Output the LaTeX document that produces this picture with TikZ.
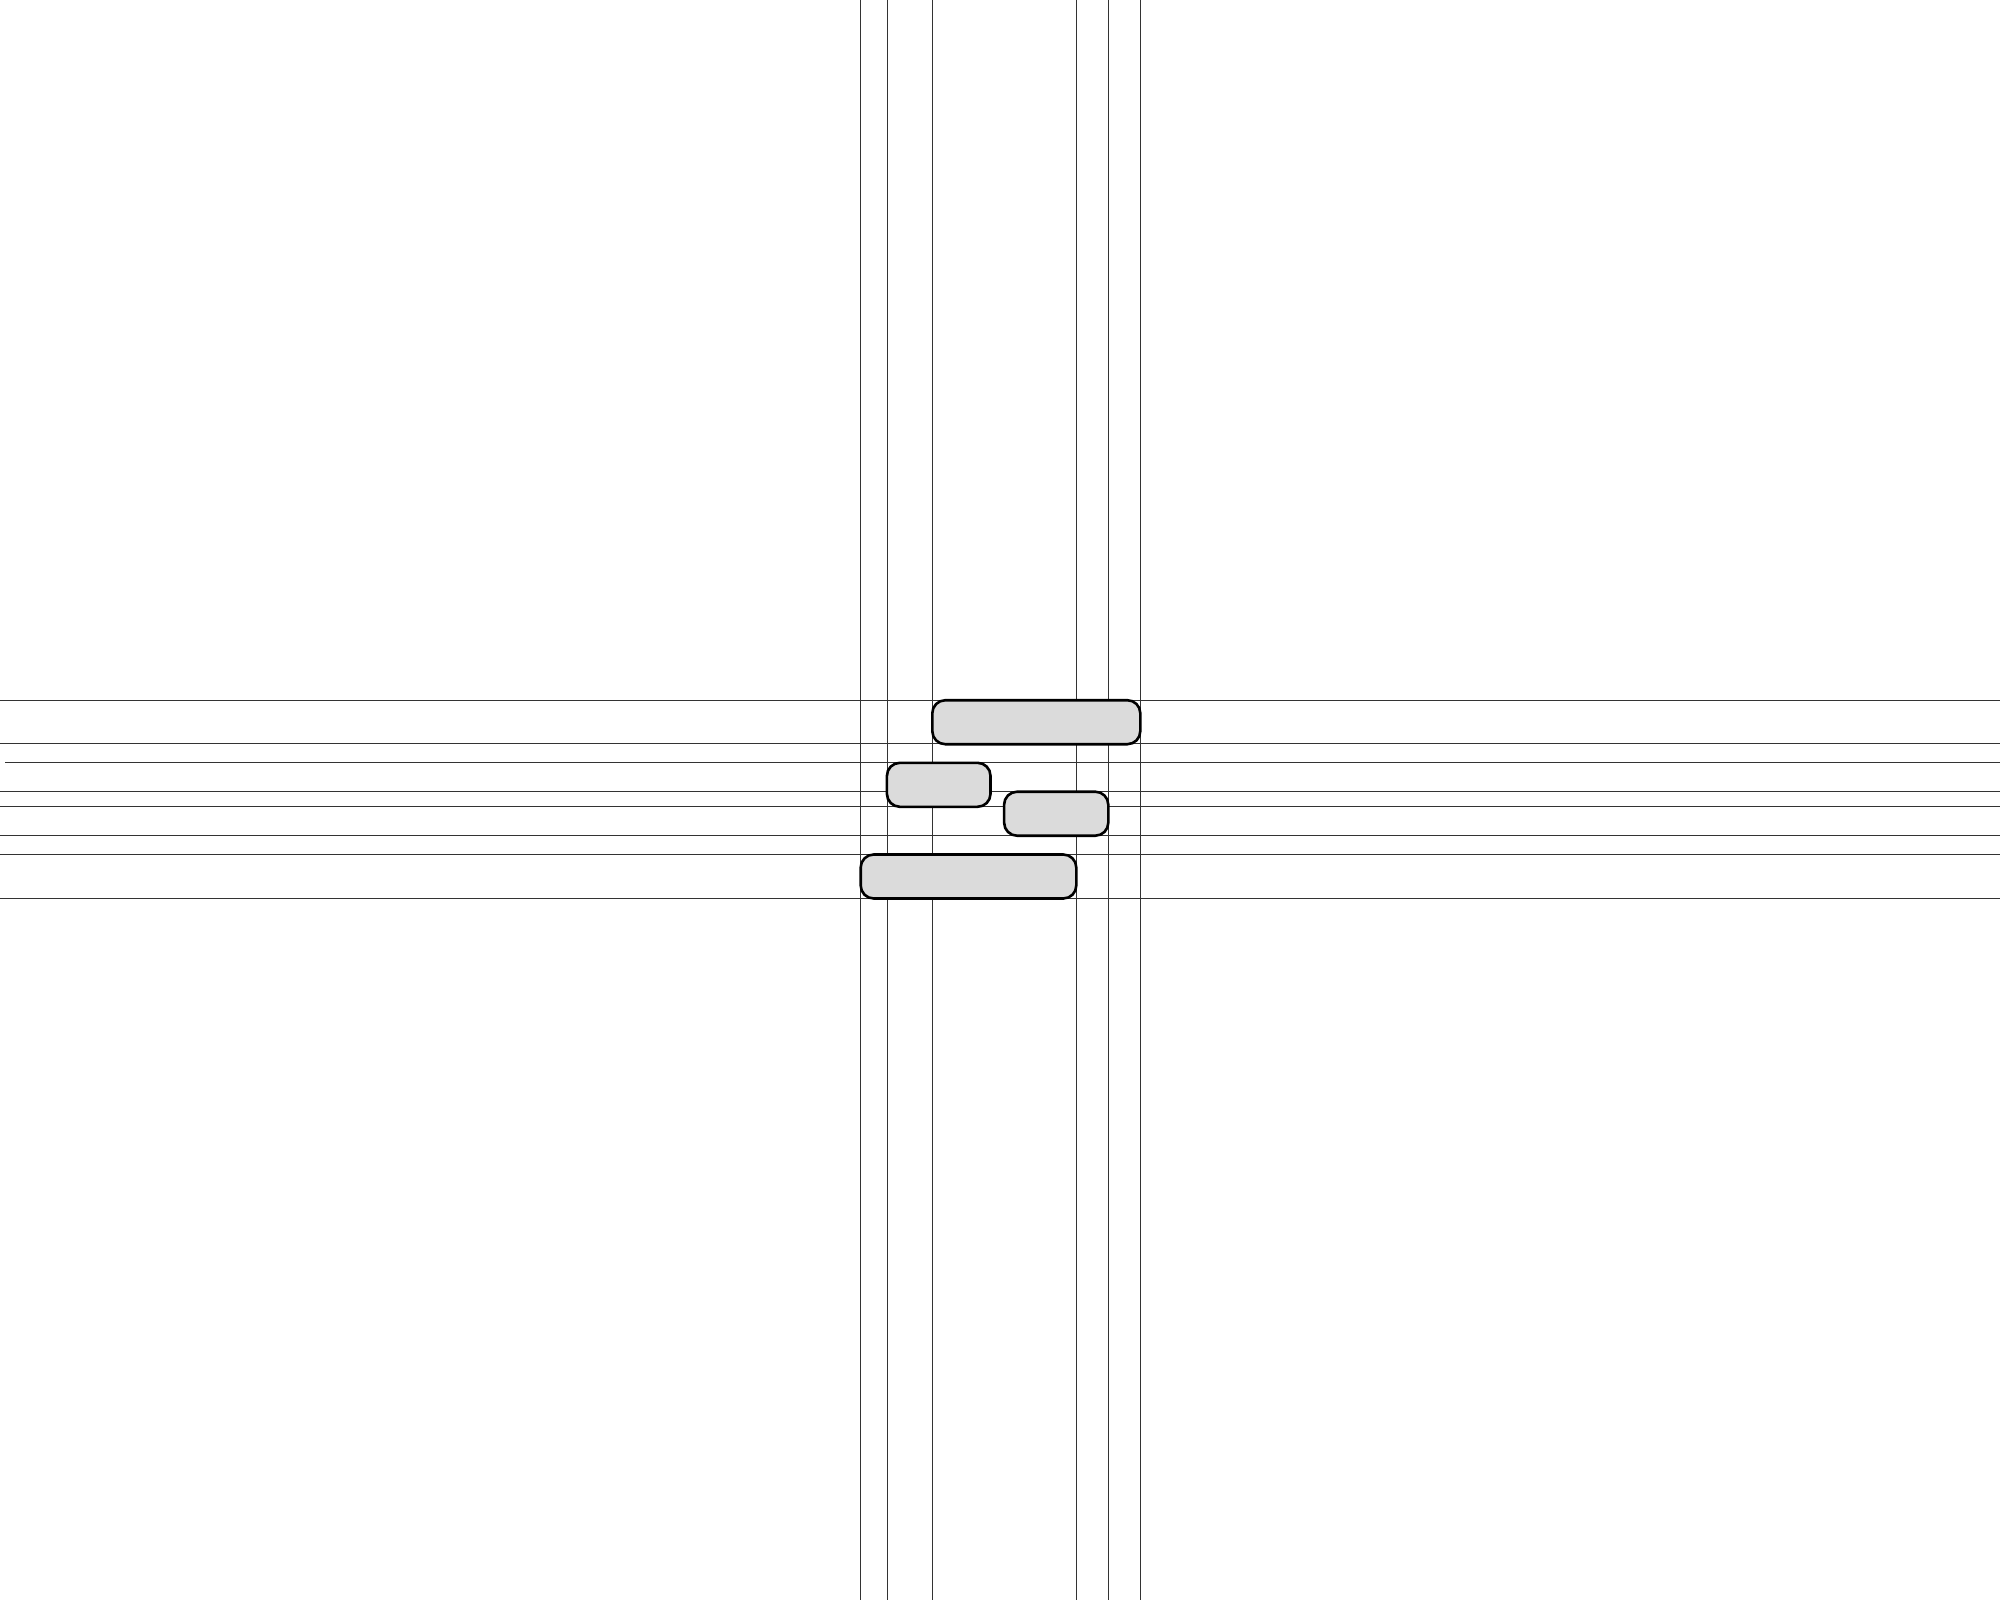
\documentclass[tikz,border=0pt]{standalone}
\begin{document}
\begin{tikzpicture}[x=0.5pt,y=-0.5pt,
  guide/.style={draw=black!80,line width=0.65pt},
  bar/.style={draw=black,line width=1.3pt,fill=black!14,rounded corners=6.5pt,inner sep=0pt,minimum height=22pt}]
\useasboundingbox (0,0) rectangle (2000,1600);
\fill[white] (0,0) rectangle (2000,1600);
% vertical guides
\foreach \x in {860.7,887.3,932.3,1076.3,1108.3,1140.3}
  \draw[guide] (\x,0) -- (\x,1600);
% horizontal guides
\foreach \y in {700.3,743.7,791.7,806.3,835.7,854.3,898.7}
  \draw[guide] (0,\y) -- (2000,\y);
\draw[guide] (5,762.8) -- (2000,762.8);
% bars
\node[bar,minimum width=104pt] (a) at (1036.3,722.2) {};
\node[bar,minimum width=51.8pt] (b) at (938.7,784.8) {};
\node[bar,minimum width=52.1pt] (c) at (1056.2,813.7) {};
\node[bar,minimum width=107.8pt] (d) at (968.5,876.5) {};
\end{tikzpicture}
\end{document}
